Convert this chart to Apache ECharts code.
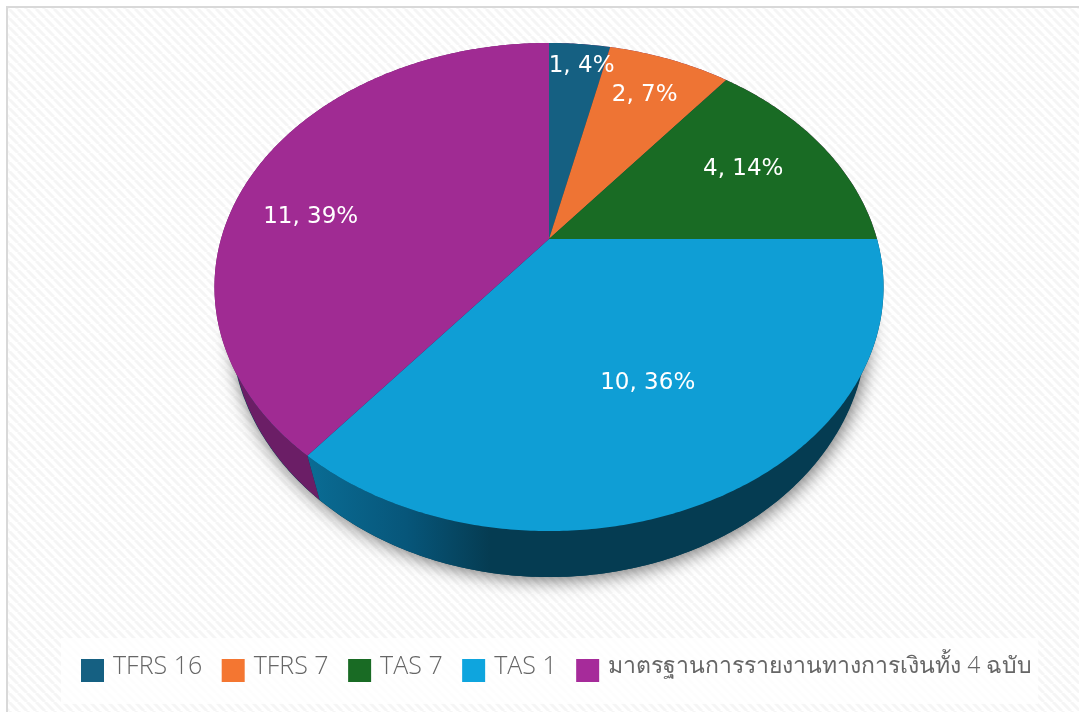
<!DOCTYPE html>
<html>
<head>
<meta charset="utf-8">
<title>Pie</title>
<style>
  html, body { margin: 0; padding: 0; background: #fff; overflow: hidden; }
  #chart { width: 1079px; height: 712px; }
</style>
<script src="https://cdn.jsdelivr.net/npm/echarts@6/dist/echarts.min.js"></script>
</head>
<body>
<div id="chart"></div>
<script>
// data
const categories = ["TFRS 16", "TFRS 7", "TAS 7", "TAS 1", "มาตรฐานการรายงานทางการเงินทั้ง 4 ฉบับ"];
const values = [1, 2, 4, 10, 11];
const sliceColors = ["#156082", "#EE7434", "#196B24", "#0F9ED5", "#A02B93"];
const legendColors = ["#156082", "#F47631", "#196B24", "#0EA5DE", "#A62B9A"];

const total = values.reduce((a, b) => a + b, 0);

// perspective disc: apex of the slices sits above the centre of the rim ellipse
const apex = { x: 549, y: 239 };
const disc = { a: 328, b: 234.6, k: 0.1967 };
const rim = { cx: 549, cy: 287, rx: 335, ry: 244 };
const floor = { cx: 549, cy: 327, rx: 318, ry: 250 };
// hand placed label nudges, the same way the source chart had them dragged
const labelNudge = [[10, -29], [7, -12], [-1, -3], [-15, -25], [-31, 30]];

function project(angle, f) {
  const u = f * Math.sin(angle);
  const v = -f * Math.cos(angle);
  const d = 1 - disc.k * v;
  return [apex.x + disc.a * u / d, apex.y + disc.b * v / d];
}

function toFloor(p) {
  return [
    floor.cx + (p[0] - rim.cx) / rim.rx * floor.rx,
    floor.cy + (p[1] - rim.cy) / rim.ry * floor.ry
  ];
}

function arcPoints(from, to) {
  const steps = Math.max(2, Math.ceil((to - from) / 0.01));
  const pts = [];
  for (let i = 0; i <= steps; i++) {
    pts.push(project(from + (to - from) * i / steps, 1));
  }
  return pts;
}

function wallFill(index) {
  if (index !== 3) return "#6B1E66";
  return new echarts.graphic.LinearGradient(305, 0, 490, 0, [
    { offset: 0, color: "#0A6D95" },
    { offset: 0.55, color: "#07567A" },
    { offset: 1, color: "#053C52" }
  ], true);
}

function renderSlice(params, api) {
  const i = params.seriesIndex - 1;
  const before = values.slice(0, i).reduce((a, b) => a + b, 0);
  const v = api.value(0);
  const from = before / total * Math.PI * 2;
  const to = (before + v) / total * Math.PI * 2;
  const arc = arcPoints(from, to);
  const mid = project((from + to) / 2, 0.7);
  const children = [
    {
      type: "polygon",
      z2: 1,
      shape: { points: arc.concat(arc.map(toFloor).reverse()) },
      style: { fill: wallFill(i) }
    },
    {
      type: "polygon",
      z2: 5,
      shape: { points: [[apex.x, apex.y]].concat(arc) },
      style: { fill: sliceColors[i] }
    },
    {
      type: "text",
      z2: 10,
      style: {
        text: v + ", " + Math.round(v / total * 100) + "%",
        x: mid[0] + labelNudge[i][0],
        y: mid[1] + labelNudge[i][1],
        align: "center",
        verticalAlign: "middle",
        fill: "#fff",
        font: "23px 'DejaVu Sans'"
      }
    }
  ];
  return { type: "group", children: children };
}

function renderShadow() {
  const pts = [];
  for (let i = 0; i < 360; i++) {
    const t = i / 180 * Math.PI;
    pts.push([floor.cx + floor.rx * Math.cos(t), floor.cy + floor.ry * Math.sin(t)]);
  }
  return {
    type: "polygon",
    z2: 0,
    shape: { points: pts },
    style: {
      fill: "#053C52",
      shadowBlur: 18,
      shadowOffsetX: 2,
      shadowOffsetY: 3,
      shadowColor: "rgba(0,0,0,0.55)"
    }
  };
}

// faint diagonal hatch behind the whole plot
function hatch() {
  const size = 9;
  const c = document.createElement("canvas");
  c.width = c.height = size;
  const g = c.getContext("2d");
  g.fillStyle = "#fff";
  g.fillRect(0, 0, size, size);
  g.strokeStyle = "#f5f5f5";
  g.lineWidth = 3;
  for (let o = -size; o <= size; o += size) {
    g.beginPath();
    g.moveTo(o, 0);
    g.lineTo(o + size, size);
    g.stroke();
  }
  return c;
}

const chart = echarts.init(document.getElementById("chart"));

const series = [{
  type: "custom",
  name: "shadow",
  coordinateSystem: "none",
  silent: true,
  data: [[0]],
  renderItem: renderShadow
}].concat(categories.map((name, i) => ({
  type: "custom",
  name: name,
  coordinateSystem: "none",
  silent: true,
  itemStyle: { color: sliceColors[i] },
  data: [[values[i]]],
  renderItem: renderSlice
})));

chart.setOption({
  animation: false,
  backgroundColor: "#fff",
  graphic: [{
    type: "rect",
    z: -1,
    silent: true,
    shape: { x: 7, y: 7, width: 1080, height: 712 },
    style: {
      fill: { image: hatch(), repeat: "repeat" },
      stroke: "#D9D9D9",
      lineWidth: 2
    }
  }],
  legend: {
    left: 61,
    top: 638,
    padding: [16, 6, 17, 20],
    backgroundColor: "rgba(255,255,255,0.75)",
    orient: "horizontal",
    icon: "rect",
    itemWidth: 23,
    itemHeight: 23,
    itemGap: 19.5,
    selectedMode: false,
    formatter: name => (/^T/.test(name) ? "{latin|" + name + "}" : "{thai|" + name + "}"),
    textStyle: {
      fontFamily: "'Open Sans', 'Noto Sans'",
      fontWeight: 300,
      fontSize: 24,
      color: "#6b6b6b",
      rich: {
        latin: { fontSize: 25, fontWeight: 300, color: "#666", lineHeight: 23, padding: [0, 0, 8, 4] },
        thai: { fontSize: 23, fontWeight: 300, color: "#666", lineHeight: 23, padding: [0, 0, 8, 4] }
      }
    },
    data: categories.map((name, i) => ({ name: name, itemStyle: { color: legendColors[i] } }))
  },
  series: series
});
</script>
</body>
</html>
